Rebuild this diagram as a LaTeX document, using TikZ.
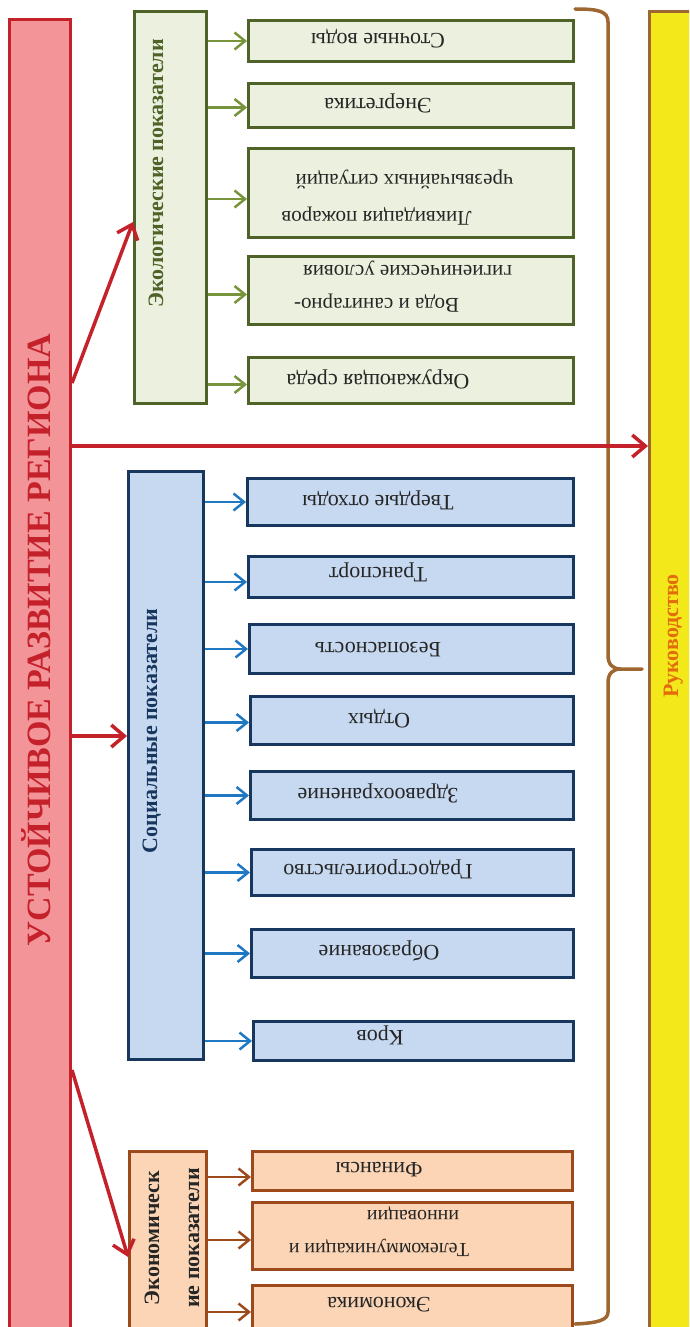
\documentclass[tikz,border=0pt]{standalone}
\usepackage{fontspec}
\setmainfont{Liberation Serif}
\usetikzlibrary{arrows.meta}

\definecolor{redline}{HTML}{C4212B}
\definecolor{redfill}{HTML}{F39598}
\definecolor{ecoline}{HTML}{4F6228}
\definecolor{ecofill}{HTML}{EBF1DE}
\definecolor{ecoarrow}{HTML}{77933C}
\definecolor{socline}{HTML}{17375E}
\definecolor{socfill}{HTML}{C6D9F1}
\definecolor{socarrow}{HTML}{1F78C1}
\definecolor{ecnline}{HTML}{9C4A1C}
\definecolor{ecnfill}{HTML}{FBD5B5}
\definecolor{braceline}{HTML}{9E6630}
\definecolor{leadfill}{HTML}{F2E81A}
\definecolor{leadtext}{HTML}{E46C0A}

\begin{document}
\begin{tikzpicture}[x=1pt,y=-1pt,
  box/.style={rectangle, draw, line width=3pt, inner sep=0pt, outer sep=1.5pt},
  mainbox/.style={box, draw=redline, fill=redfill},
  ecobox/.style={box, draw=ecoline, fill=ecofill},
  socbox/.style={box, draw=socline, fill=socfill},
  ecnbox/.style={box, draw=ecnline, fill=ecnfill},
  leadbox/.style={box, draw=braceline, fill=leadfill, line width=3.5pt},
  itemtxt/.style={rotate=180, anchor=base, inner sep=0pt, text=black!85,
    font=\fontsize{22}{26}\selectfont},
  itemtxttwo/.style={itemtxt, align=left},
  grouptxt/.style={rotate=90, anchor=base, inner sep=0pt,
    font=\bfseries\fontsize{22}{40}\selectfont},
  redarrow/.style={draw=redline, line width=3.5pt,
    -{Straight Barb[length=13pt,width=22pt]}},
  ecoarr/.style={draw=ecoarrow, line width=2.5pt,
    -{Straight Barb[length=10.5pt,width=17pt]}},
  socarr/.style={ecoarr, draw=socarrow},
  ecnarr/.style={ecoarr, draw=ecnline},
]
\useasboundingbox (0,0) rectangle (689,1327);
\clip (0,0) rectangle (689,1327);

% main column
\node[mainbox, minimum width=61pt, minimum height=1320pt] (main) at (40,680) {};
\node[grouptxt, text=redline, font=\bfseries\fontsize{34}{40}\selectfont]
  (title) at (50,640) {УСТОЙЧИВОЕ РАЗВИТИЕ РЕГИОНА};

% leadership column and brace
\node[leadbox, minimum width=70.5pt, minimum height=1328.5pt] (lead) at (684.75,675.75) {};
\node[grouptxt, text=leadtext] (leadt) at (678,636) {Руководство};
\draw[braceline, line width=3.5pt, line cap=round]
  (575,9) .. controls (598,9) and (608,11) .. (608,22)
  -- (608,655) .. controls (608,664) and (612,669) .. (621,669) -- (642,669)
  (621,669) .. controls (612,669) and (608,674) .. (608,683)
  -- (608,1312) .. controls (608,1320) and (598,1323) .. (575,1324);

% ecological group
\node[ecobox, minimum width=72pt, minimum height=392pt] (eco) at (170.5,207.5) {};
\node[grouptxt, text=ecoline] (ecot) at (163,173.5) {Экологические показатели};

\node[ecobox, minimum width=325pt, minimum height=41pt] (e1) at (411,41) {};
\node[ecobox, minimum width=325pt, minimum height=44pt] (e2) at (411,105.5) {};
\node[ecobox, minimum width=325pt, minimum height=89pt] (e3) at (411,193) {};
\node[ecobox, minimum width=325pt, minimum height=68pt] (e4) at (411,290.5) {};
\node[ecobox, minimum width=325pt, minimum height=46pt] (e5) at (411,380.5) {};

% two-line texts are anchored on the baseline of their last line
\node[itemtxt] (e1t) at (378,34) {Сточные воды};
\node[itemtxt] (e2t) at (378,99) {Энергетика};
\node[itemtxttwo, font=\fontsize{21}{37}\selectfont] (e3t) at (397.5,174)
  {\hspace*{42pt}Ликвидация пожаров\\чрезвычайных ситуаций};
\node[itemtxttwo, font=\fontsize{21}{33}\selectfont] (e4t) at (403,265)
  {\hspace*{53pt}Вода и санитарно-\\гигиенические условия};
\node[itemtxt] (e5t) at (378,374) {Окружающая среда};

\foreach \n/\d in {e1/0,e2/2,e3/6,e4/4,e5/4}
  \draw[ecoarr] ([yshift=-\d pt]\n.west -| eco.east) -- ([yshift=-\d pt]\n.west);

% social group
\node[socbox, minimum width=75pt, minimum height=588pt] (soc) at (166,765.5) {};
\node[grouptxt, text=socline] (soct) at (157,731) {Социальные показатели};

\node[socbox, minimum width=326pt, minimum height=47pt] (s1) at (410.5,502) {};
\node[socbox, minimum width=325pt, minimum height=41pt] (s2) at (411,577) {};
\node[socbox, minimum width=324pt, minimum height=49pt] (s3) at (411.5,649) {};
\node[socbox, minimum width=323pt, minimum height=48pt] (s4) at (412,720.5) {};
\node[socbox, minimum width=323pt, minimum height=48pt] (s5) at (412,795.5) {};
\node[socbox, minimum width=322pt, minimum height=46pt] (s6) at (412.5,872.5) {};
\node[socbox, minimum width=322pt, minimum height=48pt] (s7) at (412.5,953.5) {};
\node[socbox, minimum width=320pt, minimum height=39pt] (s8) at (413.5,1041) {};

\node[itemtxt] (s1t) at (378,495) {Твердые отходы};
\node[itemtxt] (s2t) at (378,567) {Транспорт};
\node[itemtxt] (s3t) at (378,642) {Безопасность};
\node[itemtxt] (s4t) at (379,713) {Отдых};
\node[itemtxt] (s5t) at (378,788) {Здравоохранение};
\node[itemtxt] (s6t) at (378,864) {Градостроительство};
\node[itemtxt] (s7t) at (379,945) {Образование};
\node[itemtxt] (s8t) at (380,1030) {Кров};

\foreach \n/\d in {s1/0,s2/-5,s3/0,s4/-2,s5/0,s6/0,s7/0,s8/0}
  \draw[socarr] ([yshift=\d pt]\n.west -| soc.east) -- ([yshift=\d pt]\n.west);

% economic group
\node[ecnbox, minimum width=77pt, minimum height=188.5pt] (ecn) at (168,1245.75) {};
\node[grouptxt, text=black!85, align=center] (ecnt) at (199,1238)
  {Экономическ\\ие показатели};

\node[ecnbox, minimum width=320pt, minimum height=39pt] (c1) at (412.5,1171) {};
\node[ecnbox, minimum width=320pt, minimum height=67pt] (c2) at (412.5,1236) {};
\node[ecnbox, minimum width=320pt, minimum height=58pt] (c3) at (412.5,1314) {};

\node[itemtxt] (c1t) at (379,1162) {Финансы};
\node[itemtxttwo, font=\fontsize{20}{33}\selectfont] (c2t) at (379,1210)
  {Телекоммуникации и\\\hspace*{10pt}инновации};
\node[itemtxt] (c3t) at (379,1297) {Экономика};

\foreach \n/\d in {c1/6,c2/4,c3/-2}
  \draw[ecnarr] ([yshift=-\d pt]\n.west -| ecn.east) -- ([yshift=-\d pt]\n.west);

% links from the main column
\draw[redarrow] (main.east |- 0,383) -- (eco.west |- 0,222);
\draw[redarrow] (main.east |- 0,446) -- (lead.west |- 0,446);
\draw[redarrow] (main.east |- 0,736) -- (soc.west |- 0,736);
\draw[redarrow] (main.east |- 0,1070) -- (ecn.west |- 0,1257);
\end{tikzpicture}
\end{document}
